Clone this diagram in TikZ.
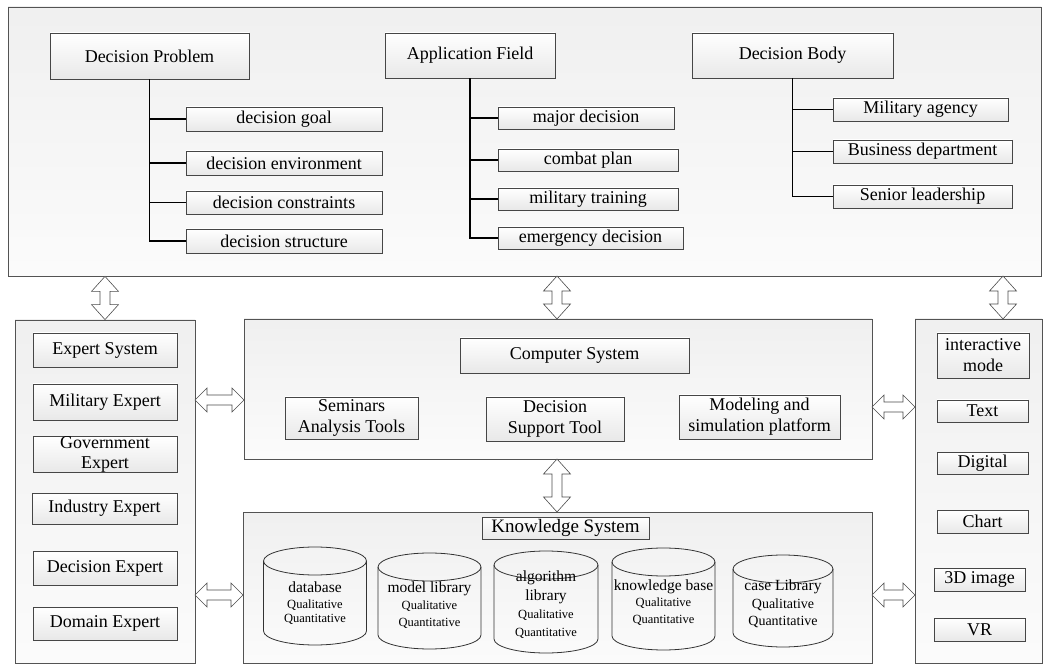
\documentclass[tikz,border=0pt]{standalone}
\usepackage{fontspec}
\setmainfont{Liberation Serif}
\usetikzlibrary{calc}
\newcommand\vbarrow[2]{\draw[barrow] let \p1=(#1), \p2=(#2) in
  (\x1,\y1) -- (\x1+13.5pt,\y1-15pt) -- (\x1+5pt,\y1-15pt) -- (\x1+5pt,\y2+15pt) -- (\x1+13.5pt,\y2+15pt)
  -- (\x1,\y2) -- (\x1-13.5pt,\y2+15pt) -- (\x1-5pt,\y2+15pt) -- (\x1-5pt,\y1-15pt) -- (\x1-13.5pt,\y1-15pt) -- cycle;}
\newcommand\hbarrow[2]{\draw[barrow] let \p1=(#1), \p2=(#2) in
  (\x1,\y1) -- (\x1+12pt,\y1+12pt) -- (\x1+12pt,\y1+5pt) -- (\x2-12pt,\y1+5pt) -- (\x2-12pt,\y1+12pt)
  -- (\x2,\y1) -- (\x2-12pt,\y1-12pt) -- (\x2-12pt,\y1-5pt) -- (\x1+12pt,\y1-5pt) -- (\x1+12pt,\y1-12pt) -- cycle;}
\newcommand\cylshape[5]{% cx, top y, bottom y, rx, ry
  \draw[cylst] (#1-#4,#2) -- (#1-#4,#3) arc[start angle=180,end angle=360,x radius=#4pt,y radius=#5pt] -- (#1+#4,#2);
  \draw[cylst] (#1,#2) ellipse[x radius=#4pt,y radius=#5pt];}
\tikzset{
  container/.style={draw=gray!65!black, line width=0.8pt, top color=gray!12, bottom color=gray!3, inner sep=0pt},
  ibox/.style={draw=gray!55!black, line width=0.7pt, top color=white, bottom color=gray!18, inner sep=0pt,
    align=center, font=\fontsize{18}{21}\selectfont},
  wire/.style={draw=black, line width=1.1pt},
  barrow/.style={draw=gray!60!black, fill=white, line width=0.6pt},
  cylst/.style={draw=black!80, line width=0.8pt},
  cyt/.style={inner sep=0pt, font=\fontsize{15.5}{17}\selectfont},
  cys/.style={inner sep=0pt, font=\fontsize{12.5}{14}\selectfont},
  cym/.style={inner sep=0pt, font=\fontsize{14}{16}\selectfont}
}
\begin{document}
\begin{tikzpicture}[x=1pt,y=-1pt]
\useasboundingbox (0,0) rectangle (1045,668);
% containers
\node[container, minimum width=1033, minimum height=269] (top) at (524.5,141.5) {};
\node[container, minimum width=180, minimum height=343] (lbox) at (105,491.5) {};
\node[container, minimum width=628, minimum height=140] (comp) at (558,389) {};
\node[container, minimum width=629, minimum height=151] (know) at (557.5,587.5) {};
\node[container, minimum width=127, minimum height=344] (rbox) at (978.5,491) {};
% top section
\node[ibox, minimum width=199, minimum height=46] (dp) at (149.5,56) {Decision Problem};
\node[ibox, minimum width=196, minimum height=24] (dgoal) at (284,119) {decision goal};
\node[ibox, minimum width=196, minimum height=24] (denv) at (284,163) {decision environment};
\node[ibox, minimum width=196, minimum height=23] (dcons) at (284,202.5) {decision constraints};
\node[ibox, minimum width=196, minimum height=24] (dstruct) at (284,241) {decision structure};
\node[ibox, minimum width=170, minimum height=45] (af) at (470,55.5) {Application Field};
\node[ibox, minimum width=176, minimum height=22] (amaj) at (586,118) {major decision};
\node[ibox, minimum width=180, minimum height=22] (acomb) at (588,160) {combat plan};
\node[ibox, minimum width=180, minimum height=22] (atrain) at (588,199) {military training};
\node[ibox, minimum width=185, minimum height=22] (aemerg) at (590.5,238) {emergency decision};
\node[ibox, minimum width=201, minimum height=45] (db) at (792.5,55.5) {Decision Body};
\node[ibox, minimum width=175, minimum height=23] (bmil) at (920.5,109.5) {Military agency};
\node[ibox, minimum width=179, minimum height=23] (bbus) at (922.5,151.5) {Business department};
\node[ibox, minimum width=179, minimum height=23] (bsen) at (922.5,196.5) {Senior leadership};
% trees
\draw[wire] (dp.south) |- (dstruct.west);
\draw[wire] (dp.south |- dgoal.west) -- (dgoal.west);
\draw[wire] (dp.south |- denv.west) -- (denv.west);
\draw[wire] (dp.south |- dcons.west) -- (dcons.west);
\draw[wire] (af.south) |- (aemerg.west);
\draw[wire] (af.south |- amaj.west) -- (amaj.west);
\draw[wire] (af.south |- acomb.west) -- (acomb.west);
\draw[wire] (af.south |- atrain.west) -- (atrain.west);
\draw[wire] (db.south) |- (bsen.west);
\draw[wire] (db.south |- bmil.west) -- (bmil.west);
\draw[wire] (db.south |- bbus.west) -- (bbus.west);
% left column
\node[ibox, minimum width=144, minimum height=34] (e1) at (105,350) {Expert System};
\node[ibox, minimum width=144, minimum height=36] (e2) at (105,402) {Military Expert};
\node[ibox, minimum width=144, minimum height=35, font=\fontsize{18}{20}\selectfont] (e3) at (105,454.5) {Government\\Expert};
\node[ibox, minimum width=145, minimum height=31] (e4) at (104.5,508.5) {Industry Expert};
\node[ibox, minimum width=144, minimum height=34] (e5) at (105,568) {Decision Expert};
\node[ibox, minimum width=144, minimum height=33] (e6) at (105,623.5) {Domain Expert};
% computer system
\node[ibox, minimum width=229, minimum height=35] (cs) at (574.5,355.5) {Computer System};
\node[ibox, minimum width=133, minimum height=42] (sem) at (351.5,418) {Seminars\\Analysis Tools};
\node[ibox, minimum width=138, minimum height=44] (dst) at (555,419) {Decision\\Support Tool};
\node[ibox, minimum width=161, minimum height=44] (msp) at (759.5,417) {Modeling and\\simulation platform};
% knowledge system
\node[ibox, minimum width=167, minimum height=22, font=\fontsize{19}{21}\selectfont] (ks) at (565.5,528) {Knowledge System};
\cylshape{315}{561}{631}{51.5}{14}
\cylshape{429.5}{567}{635}{51.5}{14}
\cylshape{546}{565}{639}{52}{14}
\cylshape{663.5}{562}{636}{51.5}{14}
\cylshape{783}{569}{633}{50}{14}
\node[cyt] (c1a) at (315,587) {database};
\node[cys] (c1b) at (315,605) {Qualitative};
\node[cys] (c1c) at (315,619) {Quantitative};
\node[cyt] (c2a) at (429.5,589) {model library};
\node[cys] (c2b) at (429.5,606) {Qualitative};
\node[cys] (c2c) at (429.5,623) {Quantitative};
\node[cyt] (c3a) at (546,578) {algorithm};
\node[cyt] (c3b) at (546,597) {library};
\node[cys] (c3c) at (546,615) {Qualitative};
\node[cys] (c3d) at (546,633) {Quantitative};
\node[cyt] (c4a) at (663.5,587) {knowledge base};
\node[cys] (c4b) at (663.5,603) {Qualitative};
\node[cys] (c4c) at (663.5,620) {Quantitative};
\node[cyt] (c5a) at (783,587) {case Library};
\node[cym] (c5b) at (783,605) {Qualitative};
\node[cym] (c5c) at (783,622) {Quantitative};
% right column
\node[ibox, minimum width=92, minimum height=45] (r1) at (983,355.5) {interactive\\mode};
\node[ibox, minimum width=91, minimum height=22] (r2) at (982.5,411) {Text};
\node[ibox, minimum width=91, minimum height=22] (r3) at (982.5,463) {Digital};
\node[ibox, minimum width=91, minimum height=23] (r4) at (982.5,521.5) {Chart};
\node[ibox, minimum width=91, minimum height=23] (r5) at (979.5,579.5) {3D image};
\node[ibox, minimum width=91, minimum height=23] (r6) at (979.5,629.5) {VR};
% arrows
\coordinate (ta1) at (lbox.north |- top.south);
\coordinate (ta2) at (557,276);
\coordinate (tb2) at (557,319);
\coordinate (ta3) at (1003,276);
\coordinate (tb3) at (1003,319);
\coordinate (ma) at (557,459);
\coordinate (mb) at (557,512);
\coordinate (la1) at (195,400);
\coordinate (lb1) at (244,400);
\coordinate (la2) at (195,595);
\coordinate (lb2) at (243,595);
\coordinate (ra1) at (872,407);
\coordinate (rb1) at (915,407);
\coordinate (ra2) at (872,595);
\coordinate (rb2) at (915,595);
\vbarrow{ta1}{lbox.north}
\vbarrow{ta2}{tb2}
\vbarrow{ta3}{tb3}
\vbarrow{ma}{mb}
\hbarrow{la1}{lb1}
\hbarrow{la2}{lb2}
\hbarrow{ra1}{rb1}
\hbarrow{ra2}{rb2}
\end{tikzpicture}
\end{document}
